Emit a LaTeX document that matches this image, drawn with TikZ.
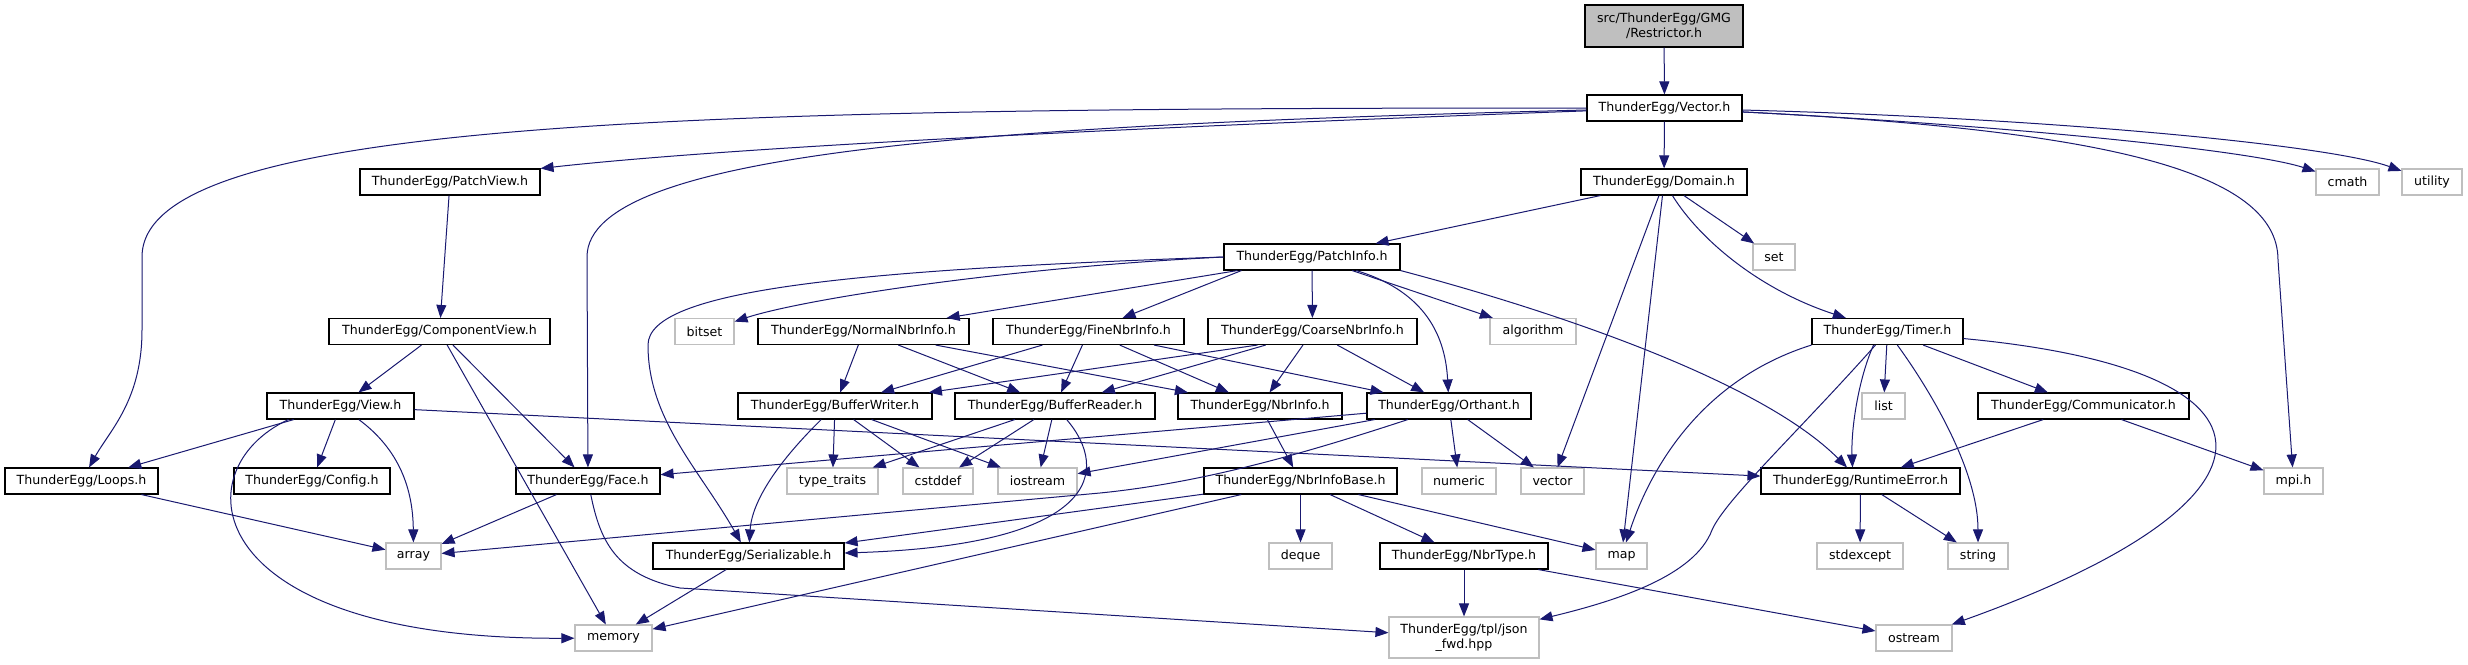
\documentclass[tikz,border=0pt]{standalone}
\usepackage{fontspec}
\newfontfamily\dv{DejaVu Sans}
\usetikzlibrary{arrows.meta}
\definecolor{edgec}{HTML}{191970}
\definecolor{grey75}{HTML}{BFBFBF}
\begin{document}
\begin{tikzpicture}[x=1pt,y=-1pt,
  box/.style={draw=black, line width=1.1pt, fill=white, minimum height=26pt, inner sep=0pt, font=\dv\fontsize{12.6}{15}\selectfont, align=center},
  ext/.style={box, draw=grey75},
  dep/.style={draw=edgec, line width=1pt, -{Triangle[length=13pt,width=10pt]}}]
\useasboundingbox (0,0) rectangle (2468,664);
\fill[white] (0,0) rectangle (2468,664);
% nodes
\node[box,fill=grey75,minimum width=158pt,minimum height=42pt] (restr) at (1664,26) {src/ThunderEgg/GMG\\/Restrictor.h};
\node[box,minimum width=155pt] (vector) at (1664.5,108) {ThunderEgg/Vector.h};
\node[box,minimum width=180pt] (patchview) at (450,182) {ThunderEgg/PatchView.h};
\node[box,minimum width=166pt] (domain) at (1664,182) {ThunderEgg/Domain.h};
\node[ext,minimum width=63pt] (cmath) at (2347.5,182) {cmath};
\node[ext,minimum width=60pt] (utility) at (2432,182) {utility};
\node[box,minimum width=176pt] (patchinfo) at (1312,257) {ThunderEgg/PatchInfo.h};
\node[ext,minimum width=42pt] (set) at (1774,257) {set};
\node[box,minimum width=221pt] (compview) at (439.5,331.5) {ThunderEgg/ComponentView.h};
\node[ext,minimum width=59pt] (bitset) at (704.5,331.5) {bitset};
\node[box,minimum width=211pt] (normal) at (863.5,331.5) {ThunderEgg/NormalNbrInfo.h};
\node[box,minimum width=191pt] (fine) at (1088.5,331.5) {ThunderEgg/FineNbrInfo.h};
\node[box,minimum width=209pt] (coarse) at (1312.5,331.5) {ThunderEgg/CoarseNbrInfo.h};
\node[ext,minimum width=86pt] (algorithm) at (1533,331.5) {algorithm};
\node[box,minimum width=151pt] (timer) at (1887.5,331.5) {ThunderEgg/Timer.h};
\node[box,minimum width=147pt] (view) at (340.5,406) {ThunderEgg/View.h};
\node[box,minimum width=194pt] (bwriter) at (835,406) {ThunderEgg/BufferWriter.h};
\node[box,minimum width=200pt] (breader) at (1055,406) {ThunderEgg/BufferReader.h};
\node[box,minimum width=164pt] (nbrinfo) at (1260,406) {ThunderEgg/NbrInfo.h};
\node[box,minimum width=164pt] (orthant) at (1449,406) {ThunderEgg/Orthant.h};
\node[ext,minimum width=43pt] (list) at (1883.5,406) {list};
\node[box,minimum width=211pt] (comm) at (2083.5,406) {ThunderEgg/Communicator.h};
\node[box,minimum width=153pt] (loops) at (81.5,481) {ThunderEgg/Loops.h};
\node[box,minimum width=156pt] (config) at (312,481) {ThunderEgg/Config.h};
\node[box,minimum width=144pt] (face) at (588,481) {ThunderEgg/Face.h};
\node[ext,minimum width=91pt] (typetraits) at (832.5,481) {type\_traits};
\node[ext,minimum width=70pt] (cstddef) at (938,481) {cstddef};
\node[ext,minimum width=79pt] (iostream) at (1037.5,481) {iostream};
\node[box,minimum width=193pt] (nbrinfobase) at (1300.5,481) {ThunderEgg/NbrInfoBase.h};
\node[ext,minimum width=74pt] (numeric) at (1459,481) {numeric};
\node[ext,minimum width=63pt] (vectorstd) at (1552.5,481) {vector};
\node[box,minimum width=199pt] (rterror) at (1860.5,481) {ThunderEgg/RuntimeError.h};
\node[ext,minimum width=59pt] (mpi) at (2293.5,481) {mpi.h};
\node[ext,minimum width=55pt] (array) at (413.5,556) {array};
\node[box,minimum width=191pt] (serial) at (748.5,556) {ThunderEgg/Serializable.h};
\node[ext,minimum width=63pt] (deque) at (1300.5,556) {deque};
\node[box,minimum width=168pt] (nbrtype) at (1464,556) {ThunderEgg/NbrType.h};
\node[ext,minimum width=51pt] (map) at (1621.5,556) {map};
\node[ext,minimum width=86pt] (stdexcept) at (1860,556) {stdexcept};
\node[ext,minimum width=60pt] (string) at (1978,556) {string};
\node[ext,minimum width=77pt] (memory) at (613.5,638) {memory};
\node[ext,minimum width=150pt,minimum height=41pt] (json) at (1464,637.5) {ThunderEgg/tpl/json\\\_fwd.hpp};
\node[ext,minimum width=76pt] (ostream) at (1914,638) {ostream};
% edges
\draw[dep] (restr) -- (vector);
\draw[dep] (vector) -- (domain);
\draw[dep] (vector) .. controls (1200,125) and (750,145) .. (patchview.north east);
\draw[dep] (vector) .. controls (1000,125) and (587,150) .. (587,257) -- (face);
\draw[dep] (vector) .. controls (700,108) and (142,118) .. (142,257) -- (142,330) .. controls (142,400) and (110,430) .. (loops);
\draw[dep] (vector) .. controls (2000,125) and (2250,150) .. (cmath);
\draw[dep] (vector) .. controls (2050,118) and (2330,145) .. (utility);
\draw[dep] (vector) .. controls (2100,130) and (2278,170) .. (2278,260) -- (mpi);
\draw[dep] (patchview) -- (compview);
\draw[dep] (domain) -- (patchinfo);
\draw[dep] (domain) -- (set);
\draw[dep] (domain) .. controls (1700,240) and (1760,290) .. (timer);
\draw[dep] (domain) -- (vectorstd);
\draw[dep] (domain) -- (map);
\draw[dep] (patchinfo) -- (coarse);
\draw[dep] (patchinfo) -- (algorithm);
\draw[dep] (patchinfo) .. controls (1420,290) and (1445,330) .. (orthant);
\draw[dep] (patchinfo.south east) .. controls (1550,310) and (1760,380) .. (rterror);
\draw[dep] (patchinfo.west) .. controls (1000,268) and (800,300) .. (bitset);
\draw[dep] (patchinfo.west) .. controls (850,270) and (648,290) .. (648,345) .. controls (648,420) and (700,470) .. (serial);
\draw[dep] ([xshift=14pt]patchinfo.south west) -- (normal);
\draw[dep] ([xshift=18pt]patchinfo.south west) -- (fine);
\draw[dep] (compview) -- (view);
\draw[dep] (compview) -- (memory);
\draw[dep] (compview) -- (face);
\draw[dep] (view) -- (loops);
\draw[dep] (view) -- (config);
\draw[dep] (view) .. controls (400,450) and (413,490) .. (array);
\draw[dep] ([xshift=22pt]view.south west) .. controls (180,470) and (200,640) .. (memory);
\draw[dep] (view) -- (rterror);
\draw[dep] (loops) -- (array);
\draw[dep] (face) -- (array);
\draw[dep] (face) .. controls (600,540) and (615,575) .. (680,588) -- (json);
\draw[dep] (orthant) -- (face);
\draw[dep] (orthant) -- (iostream);
\draw[dep] (orthant) .. controls (1300,455) and (1200,483) .. (1100,493) -- (array);
\draw[dep] (orthant) -- (numeric);
\draw[dep] (orthant) -- (vectorstd);
\draw[dep] (normal) -- (bwriter);
\draw[dep] (normal) -- (breader);
\draw[dep] (normal) -- (nbrinfo);
\draw[dep] (fine) -- (bwriter);
\draw[dep] (fine) -- (breader);
\draw[dep] (fine) -- (nbrinfo);
\draw[dep] (fine) -- (orthant);
\draw[dep] ([xshift=50pt]coarse.south west) -- (bwriter);
\draw[dep] (coarse) -- (breader);
\draw[dep] (coarse) -- (nbrinfo);
\draw[dep] (coarse) -- (orthant);
\draw[dep] (bwriter) .. controls (780,460) and (752,500) .. (serial);
\draw[dep] (bwriter) -- (typetraits);
\draw[dep] (bwriter) -- (cstddef);
\draw[dep] (bwriter) -- (iostream);
\draw[dep] (breader) -- (typetraits);
\draw[dep] (breader) -- (cstddef);
\draw[dep] (breader) -- (iostream);
\draw[dep] (breader) .. controls (1110,470) and (1100,545) .. (serial);
\draw[dep] (nbrinfo) -- (nbrinfobase);
\draw[dep] (nbrinfobase) -- (serial);
\draw[dep] (nbrinfobase) -- (memory);
\draw[dep] (nbrinfobase) -- (deque);
\draw[dep] (nbrinfobase) -- (nbrtype);
\draw[dep] (nbrinfobase) -- (map);
\draw[dep] (nbrtype) -- (json);
\draw[dep] (nbrtype) -- (ostream);
\draw[dep] (timer.south west) .. controls (1700,380) and (1650,470) .. (map);
\draw[dep] (timer) .. controls (1800,430) and (1725,500) .. (1712,530) .. controls (1695,575) and (1620,600) .. (json);
\draw[dep] ([xshift=-14pt]timer.south) .. controls (1858,380) and (1851,430) .. ([xshift=-8pt]rterror.north);
\draw[dep] (timer) -- (list);
\draw[dep] (timer) .. controls (1930,390) and (1978,470) .. (string);
\draw[dep] (timer) -- (comm);
\draw[dep] (timer) .. controls (2300,370) and (2300,500) .. (ostream);
\draw[dep] (comm) -- (rterror);
\draw[dep] (comm) -- (mpi);
\draw[dep] (rterror) -- (stdexcept);
\draw[dep] (rterror) -- (string);
\draw[dep] (serial) -- (memory);
\end{tikzpicture}
\end{document}
